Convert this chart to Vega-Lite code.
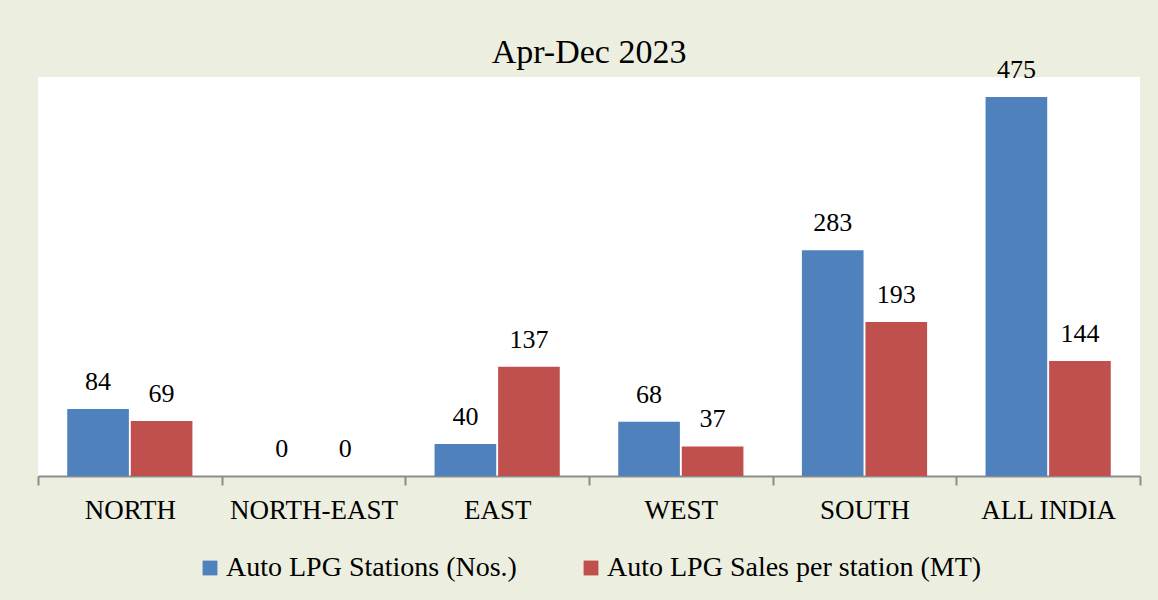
{
  "$schema": "https://vega.github.io/schema/vega-lite/v6.json",
  "width": 1102,
  "height": 399,
  "autosize": "none",
  "padding": {"left": 38, "top": 77, "right": 18, "bottom": 124},
  "background": "#ECEFDF",
  "view": {"fill": "white", "stroke": null},
  "title": {
    "text": "Apr-Dec 2023",
    "font": "Liberation Serif",
    "fontSize": 34,
    "fontWeight": "normal",
    "color": "black",
    "anchor": "middle",
    "offset": -13
  },
  "data": {
    "values": [
      {"region": "NORTH", "series": "Auto LPG Stations (Nos.)", "value": 84},
      {"region": "NORTH", "series": "Auto LPG Sales per station (MT)", "value": 69},
      {"region": "NORTH-EAST", "series": "Auto LPG Stations (Nos.)", "value": 0},
      {"region": "NORTH-EAST", "series": "Auto LPG Sales per station (MT)", "value": 0},
      {"region": "EAST", "series": "Auto LPG Stations (Nos.)", "value": 40},
      {"region": "EAST", "series": "Auto LPG Sales per station (MT)", "value": 137},
      {"region": "WEST", "series": "Auto LPG Stations (Nos.)", "value": 68},
      {"region": "WEST", "series": "Auto LPG Sales per station (MT)", "value": 37},
      {"region": "SOUTH", "series": "Auto LPG Stations (Nos.)", "value": 283},
      {"region": "SOUTH", "series": "Auto LPG Sales per station (MT)", "value": 193},
      {"region": "ALL INDIA", "series": "Auto LPG Stations (Nos.)", "value": 475},
      {"region": "ALL INDIA", "series": "Auto LPG Sales per station (MT)", "value": 144}
    ]
  },
  "encoding": {
    "x": {
      "field": "region",
      "type": "nominal",
      "sort": null,
      "title": null,
      "scale": {"paddingInner": 0, "paddingOuter": 0},
      "axis": {
        "labelAngle": 0,
        "labelFont": "Liberation Serif",
        "labelFontSize": 27,
        "labelColor": "black",
        "labelPadding": 12,
        "tickBand": "extent",
        "tickSize": 9,
        "tickColor": "#8C8C8C",
        "tickWidth": 2,
        "domainColor": "#8C8C8C",
        "domainWidth": 2
      }
    },
    "xOffset": {"field": "series", "type": "nominal", "sort": null, "scale": {"paddingInner": 0.03, "paddingOuter": 0.46}},
    "y": {
      "field": "value",
      "type": "quantitative",
      "scale": {"domain": [0, 500]},
      "axis": null
    }
  },
  "layer": [
    {
      "mark": {"type": "bar"},
      "encoding": {
        "color": {
          "field": "series",
          "type": "nominal",
          "sort": null,
          "scale": {"range": ["#4F81BD", "#C0504D"]},
          "legend": {
            "orient": "none",
            "legendX": 158,
            "legendY": 477,
            "direction": "horizontal",
            "title": null,
            "symbolType": "square",
            "symbolSize": 220,
            "symbolStrokeWidth": 0,
            "labelFont": "Liberation Serif",
            "labelFontSize": 28,
            "labelColor": "black",
            "labelLimit": 500,
            "labelOffset": 2,
            "columnPadding": 60
          }
        }
      }
    },
    {
      "mark": {"type": "text", "baseline": "middle", "dy": -27, "font": "Liberation Serif", "fontSize": 26, "color": "black"},
      "encoding": {"text": {"field": "value", "type": "quantitative"}}
    }
  ]
}
